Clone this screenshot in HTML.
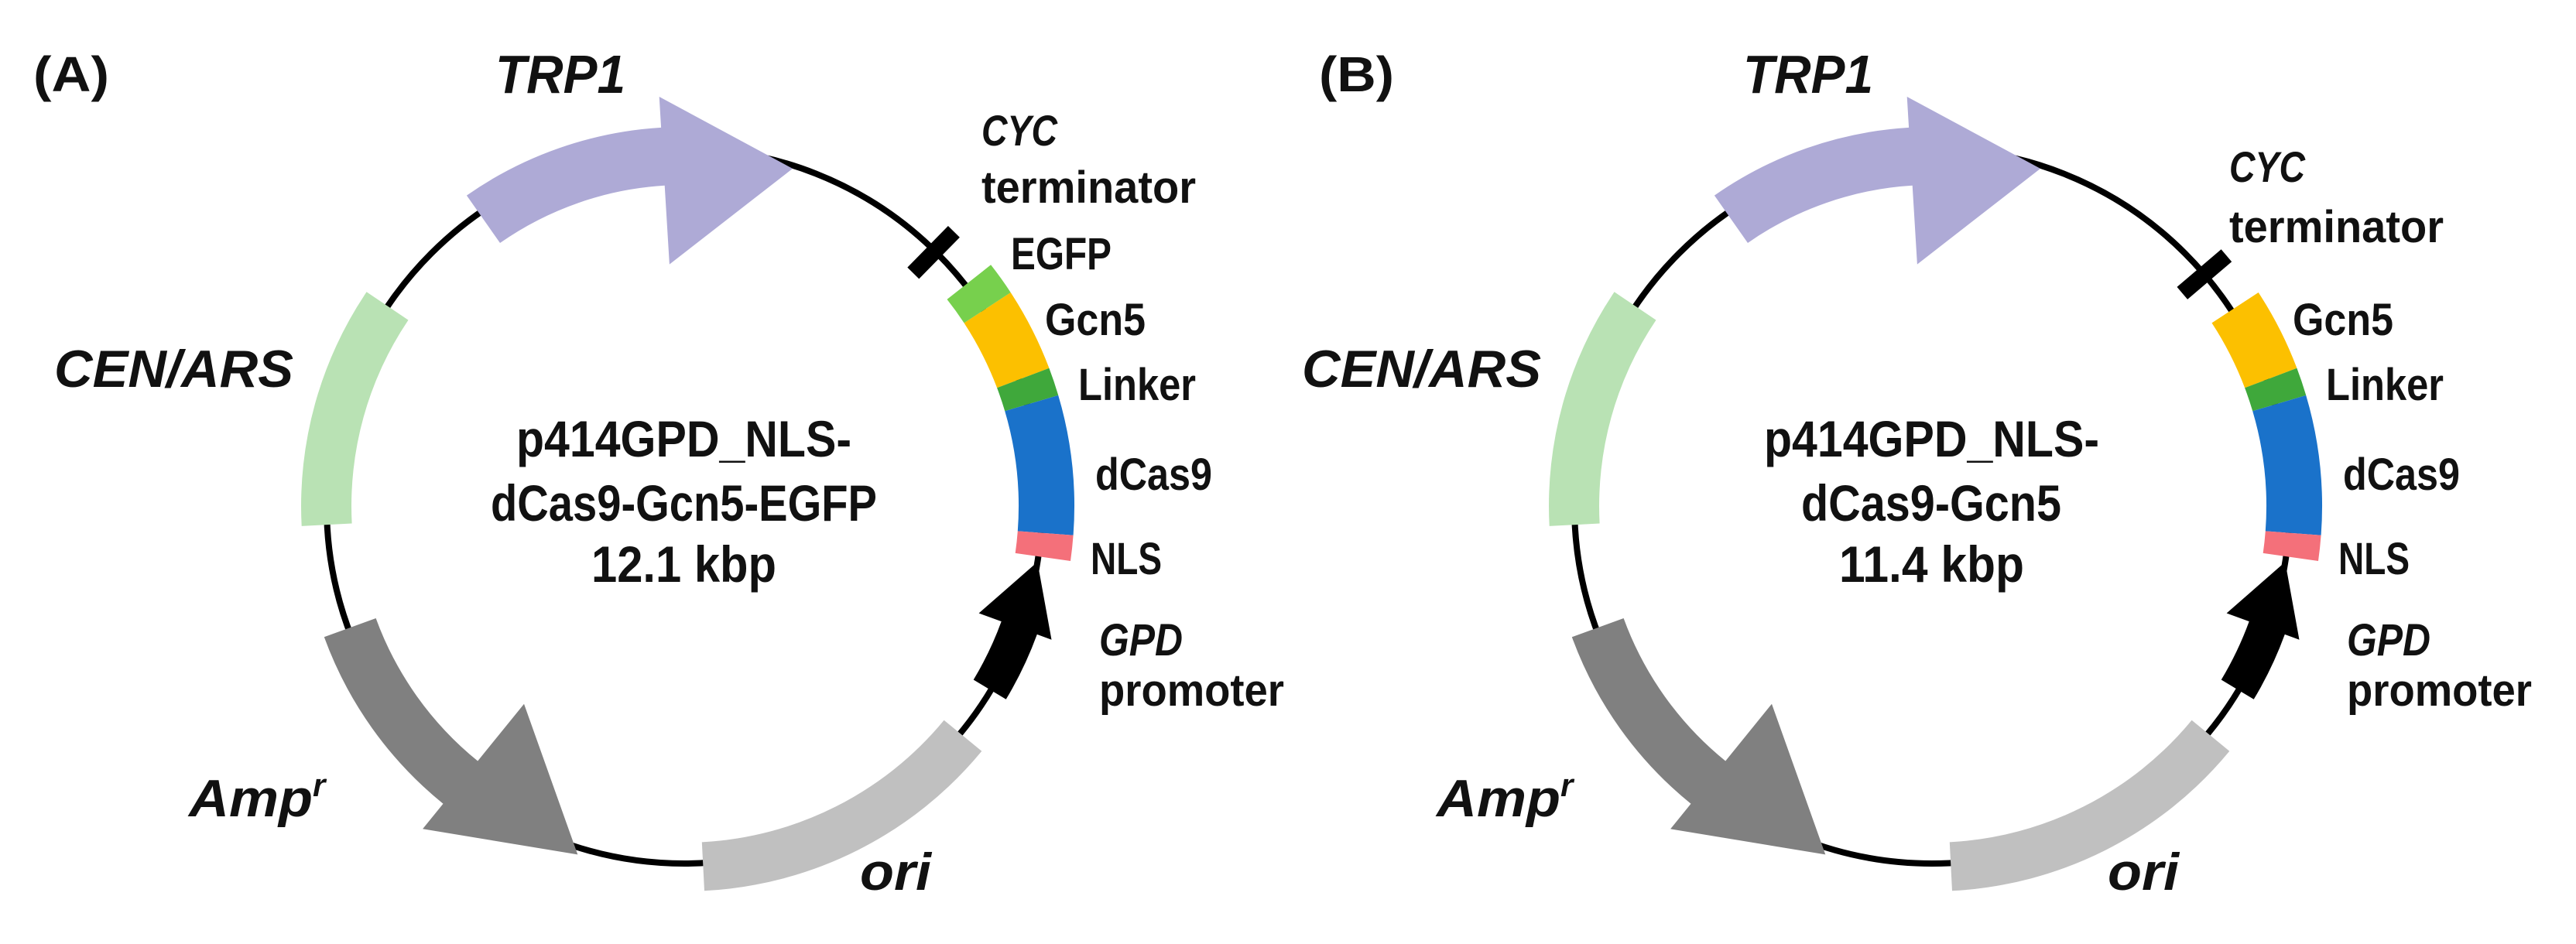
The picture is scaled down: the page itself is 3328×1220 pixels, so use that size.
<!DOCTYPE html>
<html><head><meta charset="utf-8"><style>
html,body{margin:0;padding:0;background:#fff;}
svg{display:block;}
text{font-family:"Liberation Sans",sans-serif;font-weight:bold;fill:#111;}
.it{font-style:italic;}
</style></head><body>
<svg width="3328" height="1220" viewBox="0 0 3328 1220" xmlns="http://www.w3.org/2000/svg">
<defs>
<g id="common">
  <circle cx="884" cy="654" r="462" fill="none" stroke="#000" stroke-width="8"/>
  <path d="M473.6,377.3 A495,495 0 0 0 389.7,679.9 L454.6,676.5 A430,430 0 0 1 527.5,413.6 Z" fill="#b9e2b4"/>
  <path d="M602.9,252.6 A490,490 0 0 1 854.1,164.9 L851.7,125 L1024,217.9 L864.9,341.6 L858.7,239.8 A415,415 0 0 0 646,314 Z" fill="#aeaad6"/>
  <path d="M418.8,823.3 A495,495 0 0 0 572.5,1038.7 L546.1,1071.3 L746.3,1104.4 L677,909.7 L617.2,983.5 A424,424 0 0 1 485.6,799 Z" fill="#808080"/>
  <path d="M1268.3,970.8 A498,498 0 0 1 910,1151.3 L906.8,1088.4 A435,435 0 0 0 1219.6,930.7 Z" fill="#c0c0c0"/>
  <path d="M1299.7,903.8 A485,485 0 0 0 1339.8,819.9 L1358.5,826.7 L1340.3,726.3 L1264.6,792.5 L1293.7,803.1 A436,436 0 0 1 1257.7,878.5 Z" fill="#000"/>
  <path d="M1305.7,378 A504,504 0 0 1 1355.4,475.8 L1288.1,501.3 A432,432 0 0 0 1245.5,417.4 Z" fill="#fcc000"/>
  <path d="M1355.4,475.8 A504,504 0 0 1 1367.2,510.9 L1298.2,531.3 A432,432 0 0 0 1288.1,501.3 Z" fill="#3fa83b"/>
  <path d="M1367.2,510.9 A504,504 0 0 1 1386.6,691.8 L1314.8,686.4 A432,432 0 0 0 1298.2,531.3 Z" fill="#1a72ca"/>
  <path d="M1386.6,691.8 A504,504 0 0 1 1383,725 L1311.7,714.9 A432,432 0 0 0 1314.8,686.4 Z" fill="#f4707a"/>

  <text class="it" x="640" y="120" font-size="70" textLength="168" lengthAdjust="spacingAndGlyphs">TRP1</text>
  <text class="it" x="70" y="500" font-size="68" textLength="309" lengthAdjust="spacingAndGlyphs">CEN/ARS</text>
  <text class="it" x="244" y="1055" font-size="68"><tspan textLength="160" lengthAdjust="spacingAndGlyphs">Amp</tspan><tspan font-size="42" dy="-26">r</tspan></text>
  <text class="it" x="1111" y="1150" font-size="68" textLength="92" lengthAdjust="spacingAndGlyphs">ori</text>
  <text x="667" y="590" font-size="66" textLength="433" lengthAdjust="spacingAndGlyphs">p414GPD_NLS-</text>
  <text x="1350" y="433" font-size="58" textLength="130" lengthAdjust="spacingAndGlyphs">Gcn5</text>
  <text x="1393" y="517" font-size="58" textLength="152" lengthAdjust="spacingAndGlyphs">Linker</text>
  <text x="1415" y="633" font-size="58" textLength="151" lengthAdjust="spacingAndGlyphs">dCas9</text>
  <text x="1409" y="742" font-size="58" textLength="92" lengthAdjust="spacingAndGlyphs">NLS</text>
  <text class="it" x="1420" y="847" font-size="58" textLength="108" lengthAdjust="spacingAndGlyphs">GPD</text>
  <text x="1420" y="912" font-size="58" textLength="239" lengthAdjust="spacingAndGlyphs">promoter</text>
</g>
</defs>

<g>
  <use href="#common"/>
  <path d="M1280.1,342.3 A504,504 0 0 1 1305.7,378 L1245.5,417.4 A432,432 0 0 0 1223.5,386.9 Z" fill="#77d04d"/>
  <line x1="1179.8" y1="353.0" x2="1232.4" y2="299.4" stroke="#000" stroke-width="21"/>
  <text x="43" y="118" font-size="64" textLength="98" lengthAdjust="spacingAndGlyphs">(A)</text>
  <text class="it" x="1268" y="188" font-size="56" textLength="98" lengthAdjust="spacingAndGlyphs">CYC</text>
  <text x="1268" y="262" font-size="58" textLength="277" lengthAdjust="spacingAndGlyphs">terminator</text>
  <text x="1306" y="348" font-size="58" textLength="130" lengthAdjust="spacingAndGlyphs">EGFP</text>
  <text x="634" y="673" font-size="66" textLength="499" lengthAdjust="spacingAndGlyphs">dCas9-Gcn5-EGFP</text>
  <text x="764" y="752" font-size="66" textLength="239" lengthAdjust="spacingAndGlyphs">12.1 kbp</text>
</g>

<g transform="translate(1612,0)">
  <use href="#common"/>
  <line x1="1207.3" y1="378.9" x2="1264.4" y2="330.3" stroke="#000" stroke-width="21"/>
  <text x="92" y="118" font-size="64" textLength="97" lengthAdjust="spacingAndGlyphs">(B)</text>
  <text class="it" x="1268" y="235" font-size="56" textLength="98" lengthAdjust="spacingAndGlyphs">CYC</text>
  <text x="1268" y="313" font-size="58" textLength="277" lengthAdjust="spacingAndGlyphs">terminator</text>
  <text x="715" y="673" font-size="66" textLength="336" lengthAdjust="spacingAndGlyphs">dCas9-Gcn5</text>
  <text x="764" y="752" font-size="66" textLength="239" lengthAdjust="spacingAndGlyphs">11.4 kbp</text>
</g>
</svg>
</body></html>
